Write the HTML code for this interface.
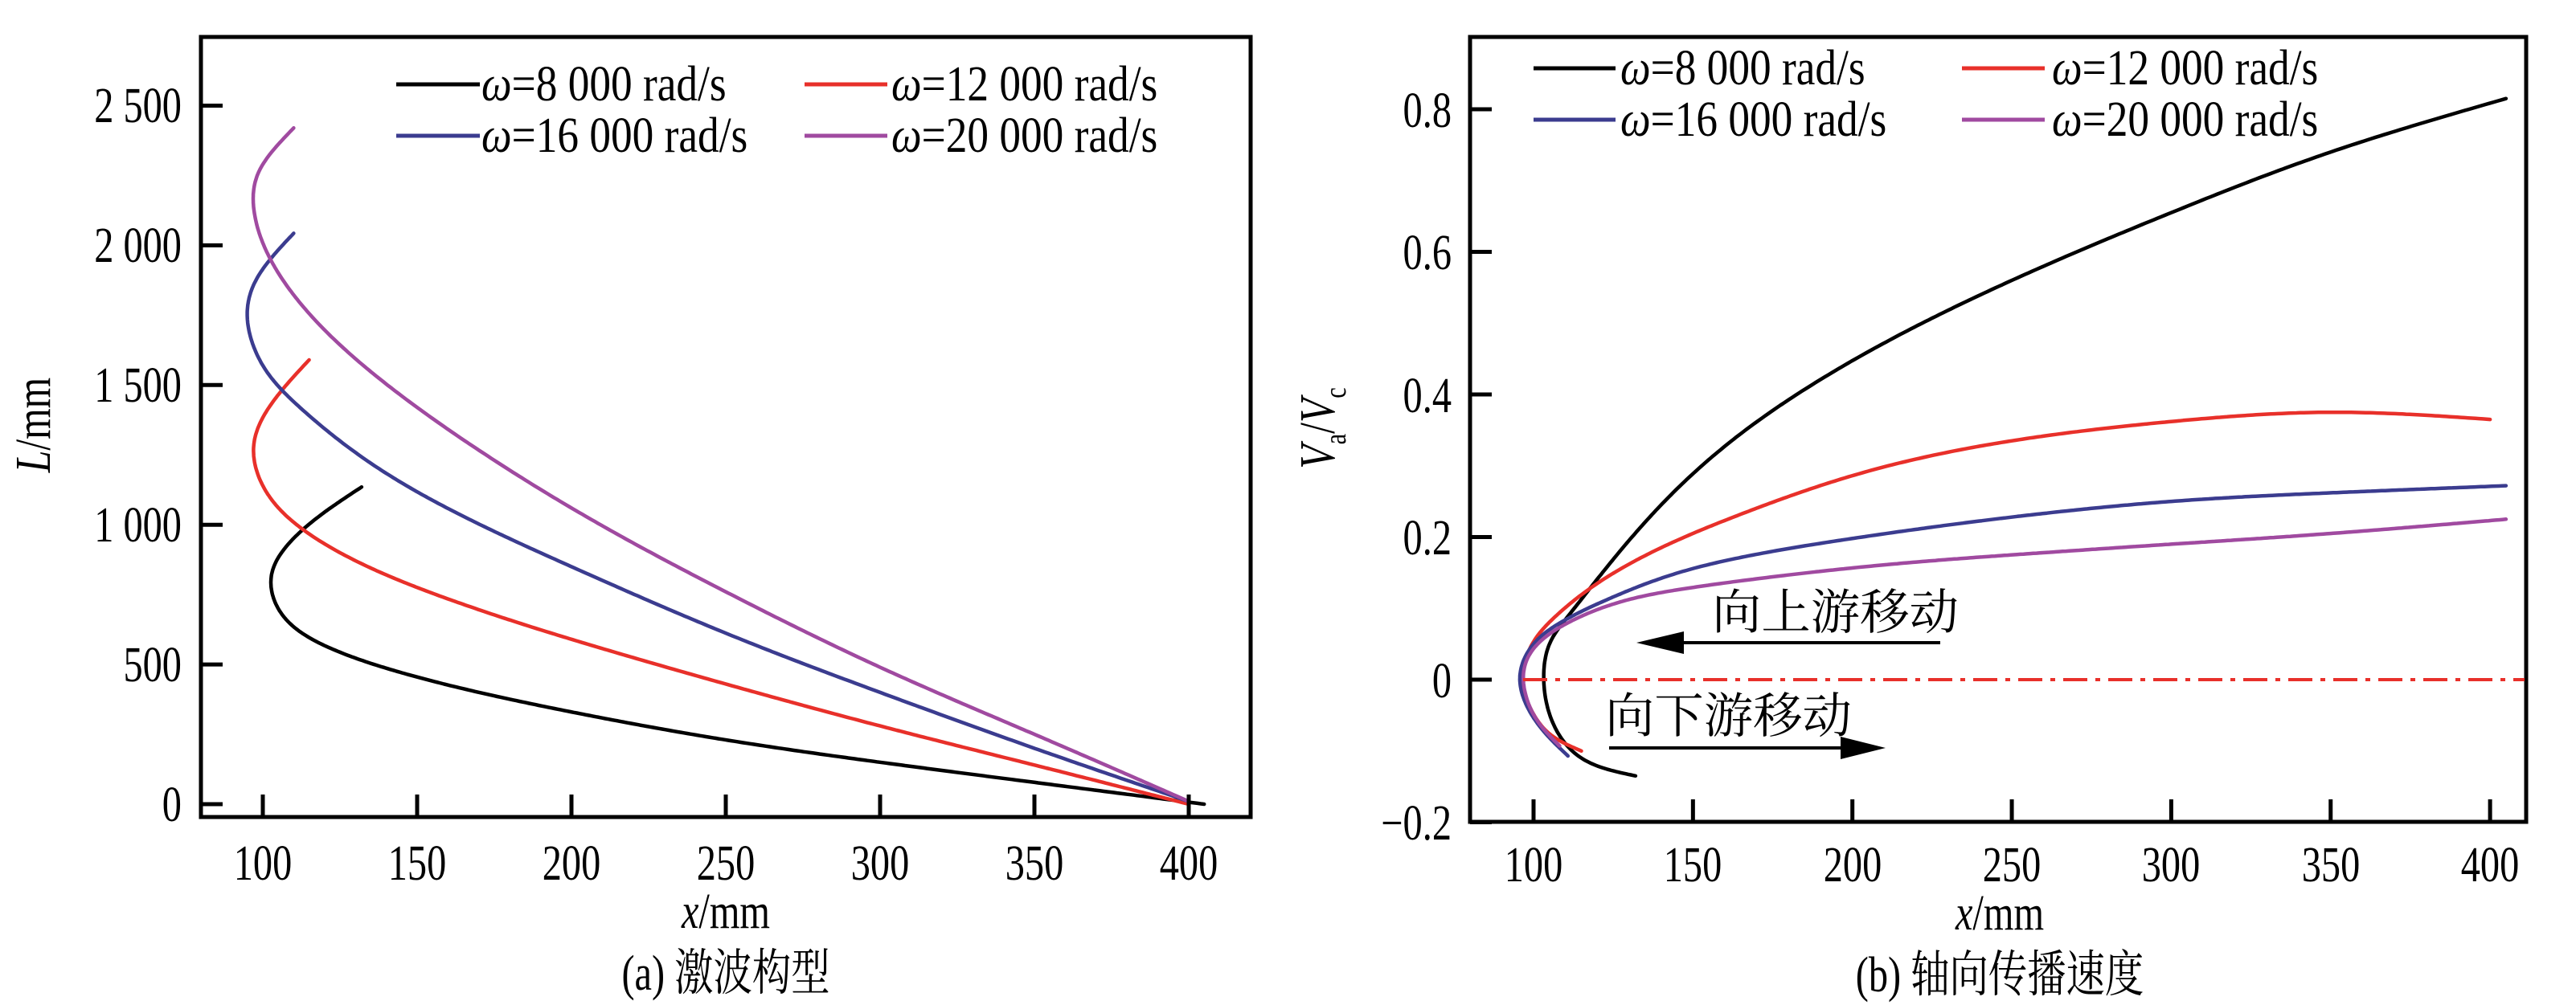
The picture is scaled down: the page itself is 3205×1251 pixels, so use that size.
<!DOCTYPE html>
<html><head><meta charset="utf-8"><style>
html,body{margin:0;padding:0;background:#fff;}
svg{display:block;}
text{font-family:"Liberation Serif","Noto Serif CJK SC",serif;fill:#000;}
.t{font-size:62px;}
.g{font-size:62px;}
.cj{font-family:"Liberation Serif","Noto Serif CJK SC","Noto Sans CJK SC",serif;}
</style></head><body>
<svg id="s" width="3205" height="1251" viewBox="0 0 3205 1251" xmlns="http://www.w3.org/2000/svg">
<g id="L"></g>
<rect x="250" y="46" width="1306" height="971" fill="none" stroke="#000" stroke-width="5"/>
<g class="t sc" text-anchor="end">
<text x="226" y="1022">0</text>
<text x="226" y="848">500</text>
<text x="226" y="674">1 000</text>
<text x="226" y="500">1 500</text>
<text x="226" y="326">2 000</text>
<text x="226" y="152">2 500</text>
</g>
<g class="t sc" text-anchor="middle">
<text x="327" y="1095">100</text><text x="519" y="1095">150</text><text x="711" y="1095">200</text>
<text x="903" y="1095">250</text><text x="1095" y="1095">300</text><text x="1287" y="1095">350</text><text x="1479" y="1095">400</text>
<text x="903" y="1155"><tspan font-style="italic">x</tspan>/mm</text>
<text x="903" y="1232" class="cj">(a) 激波构型</text>
</g>
<text class="t" transform="translate(62,529) rotate(-90) scale(0.8,1)" text-anchor="middle"><tspan font-style="italic">L</tspan>/mm</text>
<g class="g lg">
<line x1="493" y1="105" x2="597" y2="105" stroke="#000" stroke-width="5"/>
<text x="599" y="125"><tspan font-style="italic">ω</tspan>=8 000 rad/s</text>
<line x1="1001" y1="105" x2="1104" y2="105" stroke="#e8302a" stroke-width="5"/>
<text x="1109" y="125"><tspan font-style="italic">ω</tspan>=12 000 rad/s</text>
<line x1="493" y1="169" x2="597" y2="169" stroke="#3b3c8f" stroke-width="5"/>
<text x="599" y="189"><tspan font-style="italic">ω</tspan>=16 000 rad/s</text>
<line x1="1001" y1="169" x2="1104" y2="169" stroke="#a04aa0" stroke-width="5"/>
<text x="1109" y="189"><tspan font-style="italic">ω</tspan>=20 000 rad/s</text>
</g>

<g id="R"></g>
<rect x="1829" y="46" width="1314" height="977" fill="none" stroke="#000" stroke-width="5"/>
<line x1="1895" y1="846" x2="3141" y2="846" stroke="#e8302a" stroke-width="4" stroke-dasharray="30,10,6,10"/>
<g class="t sc" text-anchor="end">
<text x="1806" y="1045">−0.2</text>
<text x="1806" y="868">0</text>
<text x="1806" y="690">0.2</text>
<text x="1806" y="513">0.4</text>
<text x="1806" y="335">0.6</text>
<text x="1806" y="158">0.8</text>
</g>
<g class="t sc" text-anchor="middle">
<text x="1908" y="1097">100</text><text x="2106" y="1097">150</text><text x="2305" y="1097">200</text>
<text x="2503" y="1097">250</text><text x="2701" y="1097">300</text><text x="2900" y="1097">350</text><text x="3098" y="1097">400</text>
<text x="2488" y="1157"><tspan font-style="italic">x</tspan>/mm</text>
<text x="2488" y="1234" class="cj">(b) 轴向传播速度</text>
</g>
<text class="t" transform="translate(1660,533) rotate(-90) scale(0.8,1)" text-anchor="middle"><tspan font-style="italic">V</tspan><tspan font-size="38" dy="14">a</tspan><tspan dy="-14">/</tspan><tspan font-style="italic">V</tspan><tspan font-size="38" dy="14">c</tspan></text>
<g class="g lg">
<line x1="1908" y1="85" x2="2010" y2="85" stroke="#000" stroke-width="5"/>
<text x="2016" y="105"><tspan font-style="italic">ω</tspan>=8 000 rad/s</text>
<line x1="2441" y1="85" x2="2544" y2="85" stroke="#e8302a" stroke-width="5"/>
<text x="2553" y="105"><tspan font-style="italic">ω</tspan>=12 000 rad/s</text>
<line x1="1908" y1="149" x2="2010" y2="149" stroke="#3b3c8f" stroke-width="5"/>
<text x="2016" y="169"><tspan font-style="italic">ω</tspan>=16 000 rad/s</text>
<line x1="2441" y1="149" x2="2544" y2="149" stroke="#a04aa0" stroke-width="5"/>
<text x="2553" y="169"><tspan font-style="italic">ω</tspan>=20 000 rad/s</text>
</g>
<text class="cj" x="2130" y="783" font-size="60" textLength="307" lengthAdjust="spacingAndGlyphs">向上游移动</text>
<line x1="2414" y1="800" x2="2090" y2="800" stroke="#000" stroke-width="4"/>
<polygon points="2036,800 2095,786 2095,814" fill="#000"/>
<text class="cj" x="1997" y="912" font-size="60" textLength="307" lengthAdjust="spacingAndGlyphs">向下游移动</text>
<line x1="2002" y1="931" x2="2300" y2="931" stroke="#000" stroke-width="4"/>
<polygon points="2346,931 2290,917 2290,945" fill="#000"/>
</svg>
<script>
function nat(t,y){
 var n=t.length,M=new Array(n).fill(0);if(n<3)return M;
 var a=[],b=[],c=[],r=[];
 for(var i=1;i<n-1;i++){var h0=t[i]-t[i-1],h1=t[i+1]-t[i];a.push(h0);b.push(2*(h0+h1));c.push(h1);r.push(6*((y[i+1]-y[i])/h1-(y[i]-y[i-1])/h0));}
 var m=b.length;for(var i=1;i<m;i++){var w=a[i]/b[i-1];b[i]-=w*c[i-1];r[i]-=w*r[i-1];}
 var x=new Array(m);x[m-1]=r[m-1]/b[m-1];for(var i=m-2;i>=0;i--)x[i]=(r[i]-c[i]*x[i+1])/b[i];
 for(var i=0;i<m;i++)M[i+1]=x[i];return M;
}
function ev(t,y,M,s){var i=0;while(i<t.length-2&&s>t[i+1])i++;var h=t[i+1]-t[i],A=(t[i+1]-s)/h,B=(s-t[i])/h;
 return A*y[i]+B*y[i+1]+((A*A*A-A)*M[i]+(B*B*B-B)*M[i+1])*h*h/6;}
function path(pts,fx,fy){
 var X=pts.map(function(a){return fx(a[0]);}),Y=pts.map(function(a){return fy(a[1]);});
 var t=[0];for(var i=1;i<X.length;i++)t.push(t[i-1]+Math.sqrt(Math.hypot(X[i]-X[i-1],Y[i]-Y[i-1])));
 var MX=nat(t,X),MY=nat(t,Y),T=t[t.length-1],d="";
 for(var k=0;k<=400;k++){var s=T*k/400;d+=(k?"L":"M")+ev(t,X,MX,s).toFixed(1)+","+ev(t,Y,MY,s).toFixed(1);}
 return d;
}
var NS="http://www.w3.org/2000/svg";
function add(g,d,c){var e=document.createElementNS(NS,"path");e.setAttribute("d",d);e.setAttribute("fill","none");e.setAttribute("stroke",c);e.setAttribute("stroke-width","4.5");e.setAttribute("stroke-linecap","round");e.setAttribute("stroke-linejoin","round");g.appendChild(e);}
var C=["#000","#e8302a","#3b3c8f","#a04aa0"];
var lx=function(x){return 327+(x-100)*3.84;}, ly=function(v){return 1001-v*0.3478;};
var Ld=[
[[132,1135],[113,983],[103,830],[105,700],[116,590],[150,455],[200,330],[250,230],[300,150],[350,78],[405,0]],
[[115,1590],[102,1420],[97,1274],[101,1120],[113,983],[135,845],[165,715],[200,590],[250,430],[300,280],[350,140],[400,0]],
[[110,2043],[98,1880],[95,1736],[100,1570],[112,1420],[135,1220],[165,1030],[200,850],[250,612],[300,400],[350,200],[400,10]],
[[110,2420],[99,2270],[97,2139],[102,1960],[118,1720],[150,1420],[200,1060],[250,760],[300,490],[350,250],[400,10]]];
var gL=document.getElementById("L");
Ld.forEach(function(d,i){add(gL,path(d,lx,ly),C[i]);});
var rx=function(x){return 1908+(x-100)*3.967;}, ry=function(v){return 846-v*887.5;};
var Rd=[
[[132,-0.135],[115,-0.11],[106,-0.06],[103.2,0],[105,0.05],[111,0.09],[122.5,0.155],[140,0.245],[165,0.345],[203,0.455],[250,0.56],[300,0.655],[350,0.74],[405,0.815]],
[[115,-0.1],[104,-0.072],[98,-0.03],[96.5,0],[99,0.045],[106,0.085],[120,0.135],[140,0.185],[165,0.232],[203,0.29],[250,0.335],[300,0.362],[350,0.375],[400,0.365]],
[[110.8,-0.107],[101,-0.06],[95.7,0],[100,0.05],[110,0.084],[125,0.116],[151,0.157],[203,0.2],[250,0.228],[300,0.25],[350,0.262],[405,0.272]],
[[108.2,-0.093],[100.4,-0.052],[96.8,0],[99,0.037],[107,0.07],[125,0.106],[151,0.13],[203,0.158],[250,0.175],[300,0.19],[350,0.205],[405,0.225]]];
var gR=document.getElementById("R");
Rd.forEach(function(d,i){add(gR,path(d,rx,ry),C[i]);});
var s=document.getElementById("s");
function ln(x1,y1,x2,y2){var e=document.createElementNS(NS,"line");e.setAttribute("x1",x1);e.setAttribute("y1",y1);e.setAttribute("x2",x2);e.setAttribute("y2",y2);e.setAttribute("stroke","#000");e.setAttribute("stroke-width","5");s.appendChild(e);}
for(var x=100;x<=400;x+=50){ln(lx(x),1017,lx(x),989);ln(rx(x),1023,rx(x),995);}
for(var v=0;v<=2500;v+=500){ln(250,ly(v),277,ly(v));}
for(var v=-0.2;v<=0.81;v+=0.2){ln(1829,ry(v),1856,ry(v));}
function sq(sel,sx){document.querySelectorAll(sel).forEach(function(t){var x=t.getAttribute("x"),y=t.getAttribute("y");t.setAttribute("transform","translate("+x+","+y+") scale("+sx+",1) translate("+(-x)+","+(-y)+")");});}
sq(".sc text",0.78);
sq(".lg text",0.86);
</script>
</body></html>
